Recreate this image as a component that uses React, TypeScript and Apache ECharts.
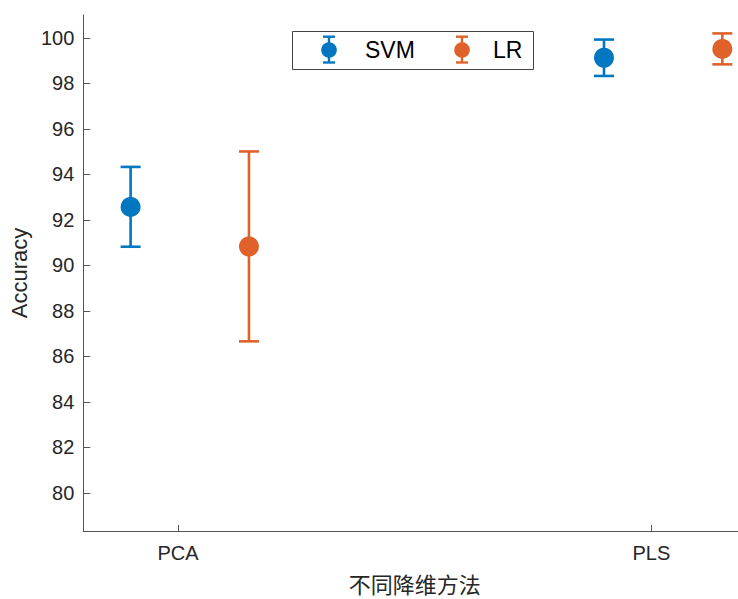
import React, { useEffect, useRef } from "react";
import * as echarts from "echarts";

const categories = ["PCA", "PLS"];
const categoryPositions = [1, 2];
const seriesNames = ["SVM", "LR"];
const seriesColors = ["#0077C0", "#E0622A"];
const seriesOffsets = [-0.1, 0.15];
const svmMean = [92.57, 99.13];
const svmLow = [90.82, 98.33];
const svmHigh = [94.33, 99.93];
const lrMean = [90.83, 99.52];
const lrLow = [86.66, 98.84];
const lrHigh = [95.01, 100.2];
const yTicks = [80, 82, 84, 86, 88, 90, 92, 94, 96, 98, 100];

const FONT = "'Liberation Sans', Arial, Helvetica, sans-serif";

export default function App() {
  const ref = useRef<HTMLDivElement>(null);
  useEffect(() => {
    document.body.style.margin = "0";
    document.body.style.overflow = "hidden";
    if (!ref.current) return;
    const chart = echarts.init(ref.current, null, { renderer: "svg" });
    const groups = [
      { mean: svmMean, low: svmLow, high: svmHigh },
      { mean: lrMean, low: lrLow, high: lrHigh },
    ];
    const series = groups.map((g, si) => ({
      type: "custom",
      name: seriesNames[si],
      encode: { x: 0, y: [1, 2, 3] },
      data: categoryPositions.map((p, i) => [p + seriesOffsets[si], g.mean[i], g.low[i], g.high[i]]),
      clip: false,
      renderItem: (params: any, api: any) => {
        const x = api.value(0);
        const c = api.coord([x, api.value(1)]);
        const lo = api.coord([x, api.value(2)]);
        const hi = api.coord([x, api.value(3)]);
        const color = seriesColors[si];
        const ls = { stroke: color, lineWidth: 2.6 };
        return {
          type: "group",
          children: [
            { type: "line", shape: { x1: c[0], y1: lo[1], x2: c[0], y2: hi[1] }, style: ls },
            { type: "line", shape: { x1: c[0] - 10, y1: hi[1], x2: c[0] + 10, y2: hi[1] }, style: ls },
            { type: "line", shape: { x1: c[0] - 10, y1: lo[1], x2: c[0] + 10, y2: lo[1] }, style: ls },
            { type: "circle", shape: { cx: c[0], cy: c[1], r: 10 }, style: { fill: color } },
          ],
        };
      },
    }));

    const graphics: any[] = [
      {
        type: "rect",
        shape: { x: 292.5, y: 31.5, width: 241, height: 38 },
        style: { fill: "#fff", stroke: "#444", lineWidth: 1 },
        z: 10,
      },
    ];
    const legendX = [329, 462];
    const legendTextX = [365, 493];
    seriesNames.forEach((n, i) => {
      const cx = legendX[i];
      const color = seriesColors[i];
      const ls = { stroke: color, lineWidth: 2.4 };
      graphics.push(
        { type: "line", z: 11, shape: { x1: cx, y1: 36.7, x2: cx, y2: 62.5 }, style: ls },
        { type: "line", z: 11, shape: { x1: cx - 6, y1: 36.7, x2: cx + 6, y2: 36.7 }, style: ls },
        { type: "line", z: 11, shape: { x1: cx - 6, y1: 62.5, x2: cx + 6, y2: 62.5 }, style: ls },
        { type: "circle", z: 12, shape: { cx, cy: 50, r: 7.8 }, style: { fill: color } },
        {
          type: "text",
          z: 12,
          x: legendTextX[i],
          y: 50,
          style: { text: n, fill: "#000", font: `23px ${FONT}`, verticalAlign: "middle", align: "left" },
        }
      );
    });

    chart.setOption({
      animation: false,
      backgroundColor: "#fff",
      grid: { left: 81, right: 0, top: 15, bottom: 61, containLabel: false },
      xAxis: {
        type: "value",
        min: 0.8,
        max: 2.2,
        name: "不同降维方法",
        nameLocation: "middle",
        nameGap: 41,
        nameTextStyle: { fontSize: 22, color: "#262626", fontFamily: "'Noto Sans CJK SC', sans-serif" },
        axisLine: { show: true, lineStyle: { color: "#555", width: 1 } },
        axisTick: { show: true, inside: true, length: 6, customValues: categoryPositions, lineStyle: { color: "#555" } },
        axisLabel: {
          customValues: categoryPositions,
          formatter: (v: number) => categories[categoryPositions.indexOf(v)] ?? "",
          fontSize: 20,
          color: "#262626",
          fontFamily: FONT,
          margin: 12,
        },
        splitLine: { show: false },
      },
      yAxis: {
        type: "value",
        min: 78.32,
        max: 101.01,
        name: "Accuracy",
        nameLocation: "middle",
        nameGap: 50,
        nameTextStyle: { fontSize: 22, color: "#262626", fontFamily: FONT },
        axisLine: { show: true, lineStyle: { color: "#555", width: 1 } },
        axisTick: { show: true, inside: true, length: 7, customValues: yTicks, lineStyle: { color: "#555" } },
        axisLabel: { customValues: yTicks, fontSize: 20, color: "#262626", fontFamily: FONT, margin: 9 },
        splitLine: { show: false },
      },
      graphic: graphics,
      series,
    });
    return () => chart.dispose();
  }, []);
  return (
    <div style={{ width: 738, height: 599, overflow: "hidden", position: "relative" }}>
      <div ref={ref} style={{ width: 746, height: 599 }} />
    </div>
  );
}
